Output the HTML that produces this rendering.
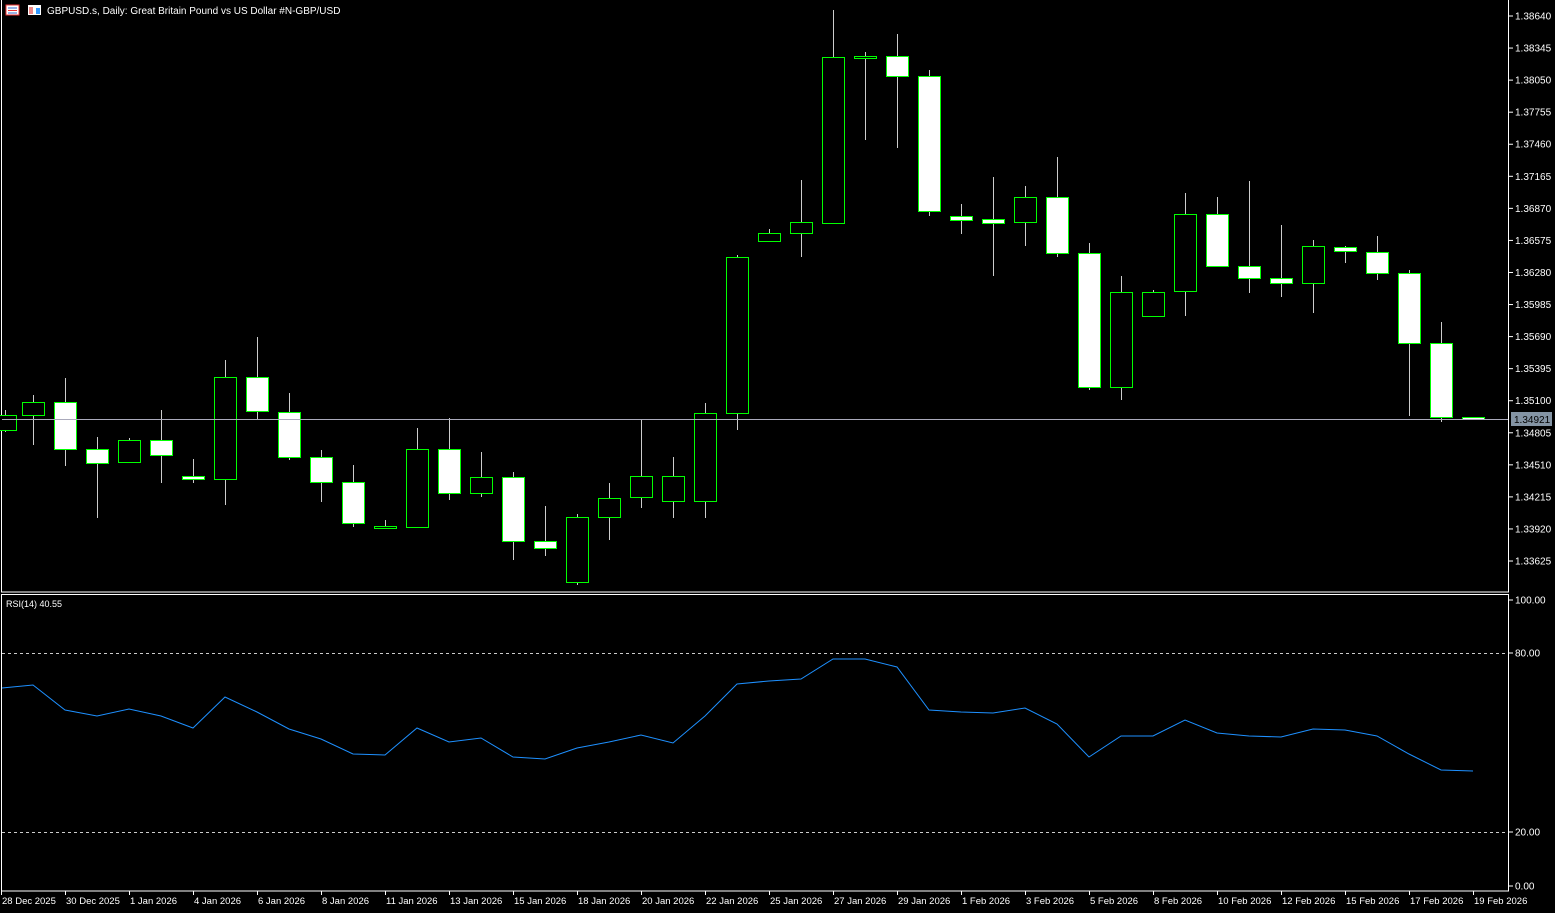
<!DOCTYPE html>
<html><head><meta charset="utf-8"><style>
html,body{margin:0;padding:0;background:#000;}
svg{display:block;font-family:"Liberation Sans",sans-serif;}
</style></head><body>
<svg id="s" width="1555" height="913" xmlns="http://www.w3.org/2000/svg">
<rect width="1555" height="913" fill="#000"/>
</svg>
<script>
const s=document.getElementById('s');let h='';
h+='<rect x="1.5" y="-1" width="1507" height="593" fill="none" stroke="#fff" stroke-width="1"/>';
h+='<rect x="1.5" y="594.5" width="1507" height="296.5" fill="none" stroke="#fff" stroke-width="1"/>';
const pl=["1.38640","1.38345","1.38050","1.37755","1.37460","1.37165","1.36870","1.36575","1.36280","1.35985","1.35690","1.35395","1.35100","1.34805","1.34510","1.34215","1.33920","1.33625"];
pl.forEach((t,i)=>{const y=16+i*32.06;h+=`<line x1="1509" x2="1513" y1="${y}" y2="${y}" stroke="#fff"/><text x="1515" y="${y+3.5}" fill="#fff" font-size="10">${t}</text>`;});
[[100,600],[80,653],[20,832],[0,886]].forEach(([v,y])=>{h+=`<line x1="1509" x2="1513" y1="${y}" y2="${y}" stroke="#fff"/><text x="1515" y="${y+3.5}" fill="#fff" font-size="10">${v.toFixed(2)}</text>`;});
h+='<line x1="2" x2="1508" y1="653.5" y2="653.5" stroke="#ccc" stroke-dasharray="3,3"/>';
h+='<line x1="2" x2="1508" y1="832.5" y2="832.5" stroke="#ccc" stroke-dasharray="3,3"/>';
const c=[[5,410,415,430,432,0],[33,395,402,415,445,0],[65,378,402,449,466,1],[97,437,449,463,518,1],[129,438,440,462,462,0],[161,410,440,455,483,1],[193,459,476,479,483,1],[225,360,377,479,505,0],[257,337,377,411,420,1],[289,393,412,457,460,1],[321,450,457,482,502,1],[353,465,482,523,527,1],[385,520,526,528,529,0],[417,428,449,527,527,0],[449,418,449,493,500,1],[481,452,477,493,497,0],[513,472,477,541,560,1],[545,506,541,548,556,1],[577,514,517,582,585,0],[609,483,498,517,540,0],[641,420,476,497,508,0],[673,457,476,501,518,0],[705,403,413,501,518,0],[737,255,257,413,430,0],[769,229,233,241,241,0],[801,180,222,233,257,0],[833,10,57,223,223,0],[865,52,56,58,140,0],[897,34,56,76,148,1],[929,70,76,211,216,1],[961,204,216,220,234,1],[993,177,219,223,276,1],[1025,186,197,222,246,0],[1057,157,197,253,257,1],[1089,243,253,387,390,1],[1121,276,292,387,400,0],[1153,290,292,316,316,0],[1185,193,214,291,316,0],[1217,197,214,266,266,1],[1249,181,266,278,293,1],[1281,225,278,283,297,1],[1313,240,246,283,313,0],[1345,246,247,251,263,1],[1377,236,252,273,280,1],[1409,270,273,343,416,1],[1441,322,343,417,422,1],[1473,417,417,419,419,1]];
c.forEach(([x,hi,t,b,lo,w])=>{
h+=`<line x1="${x+.5}" x2="${x+.5}" y1="${hi}" y2="${lo}" stroke="#ccc"/>`;
h+=`<rect x="${x-10.5}" y="${t+.5}" width="22" height="${Math.max(b-t,1)}" fill="${w?'#fff':'#000'}" stroke="#00ff00" stroke-width="1"/>`;});
h+='<line x1="2" x2="1508" y1="419.5" y2="419.5" stroke="#aab"/>';
h+='<rect x="1511" y="412" width="41" height="14" fill="#8494a4"/><text x="1514" y="423" fill="#000" font-size="10">1.34921</text>';
const r=[[2,688],[33,685],[65,710],[97,716],[129,709],[161,716],[193,728],[225,697],[257,712],[289,729],[321,739],[353,754],[385,755],[417,728],[449,742],[481,738],[513,757],[545,759],[577,748],[609,742],[641,735],[673,743],[705,716],[737,684],[769,681],[801,679],[833,659],[865,659],[897,667],[929,710],[961,712],[993,713],[1025,708],[1057,724],[1089,757],[1121,736],[1153,736],[1185,720],[1217,733],[1249,736],[1281,737],[1313,729],[1345,730],[1377,736],[1409,754],[1441,770],[1473,771]];
h+=`<polyline fill="none" stroke="#1e90ff" stroke-width="1" points="${r.map(p=>p.join(',')).join(' ')}"/>`;
h+='<text x="6" y="607" fill="#fff" font-size="9">RSI(14) 40.55</text>';
const d=["28 Dec 2025","30 Dec 2025","1 Jan 2026","4 Jan 2026","6 Jan 2026","8 Jan 2026","11 Jan 2026","13 Jan 2026","15 Jan 2026","18 Jan 2026","20 Jan 2026","22 Jan 2026","25 Jan 2026","27 Jan 2026","29 Jan 2026","1 Feb 2026","3 Feb 2026","5 Feb 2026","8 Feb 2026","10 Feb 2026","12 Feb 2026","15 Feb 2026","17 Feb 2026","19 Feb 2026"];
d.forEach((t,i)=>{const x=1+i*64;h+=`<line x1="${x+.5}" x2="${x+.5}" y1="891" y2="895" stroke="#fff"/><text x="${x+1}" y="904" fill="#fff" font-size="9.5">${t}</text>`;});
h+='<rect x="6" y="5" width="13" height="10" fill="#fff" stroke="#e33"/><line x1="8" x2="17" y1="8" y2="8" stroke="#36c"/><line x1="8" x2="17" y1="10.5" y2="10.5" stroke="#e33"/><line x1="8" x2="17" y1="13" y2="13" stroke="#36c"/>';
h+='<rect x="28" y="5" width="13" height="10" fill="#fff"/><rect x="29" y="7" width="4" height="7" fill="#e88"/><rect x="36" y="8" width="4" height="6" fill="#39f"/>';
h+='<text x="47" y="14" fill="#fff" font-size="10">GBPUSD.s, Daily:  Great Britain Pound vs US Dollar #N-GBP/USD</text>';
s.innerHTML+=h;
</script>
</body></html>
